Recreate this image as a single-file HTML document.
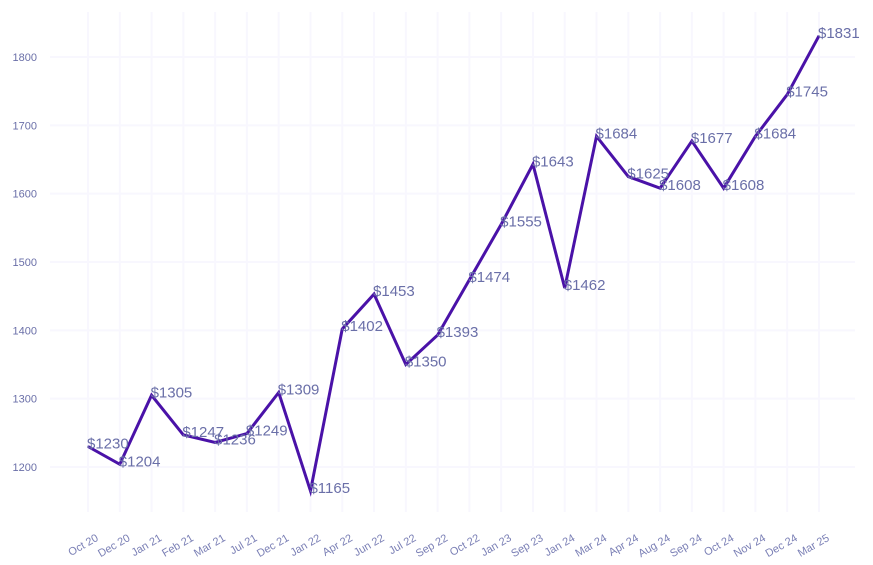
<!DOCTYPE html>
<html><head><meta charset="utf-8"><style>
body{margin:0;background:#fff;}
svg{display:block;font-family:"Liberation Sans",sans-serif;}
</style></head><body>
<svg id="chart" width="873" height="565"></svg>
<script>
const categories=["Oct 20","Dec 20","Jan 21","Feb 21","Mar 21","Jul 21","Dec 21","Jan 22","Apr 22","Jun 22","Jul 22","Sep 22","Oct 22","Jan 23","Sep 23","Jan 24","Mar 24","Apr 24","Aug 24","Sep 24","Oct 24","Nov 24","Dec 24","Mar 25"];
const values=[1230,1204,1305,1247,1236,1249,1309,1165,1402,1453,1350,1393,1474,1555,1643,1462,1684,1625,1608,1677,1608,1684,1745,1831];
const yTicks=[1200,1300,1400,1500,1600,1700,1800];
const NS="http://www.w3.org/2000/svg";
const svg=document.getElementById('chart');
const x0=88,x1=819,yA=1200,yB=1800,pyA=467,pyB=57;
const xs=i=>x0+(x1-x0)*i/(categories.length-1);
const ys=v=>pyA+(v-yA)*(pyB-pyA)/(yB-yA);
function mk(t,a,p){const e=document.createElementNS(NS,t);for(const k in a)e.setAttribute(k,a[k]);(p||svg).appendChild(e);return e;}
const grid=mk('g',{});


yTicks.forEach(v=>{
  const l=mk('line',{x1:50,x2:855,y1:ys(v),y2:ys(v),stroke:'#f8f7fe','stroke-width':2},grid);
  
  
  const t=mk('text',{x:37,y:ys(v)+4,'text-anchor':'end','font-size':11,fill:'#6a6fa8'});
  t.textContent=v;
  
  
});
categories.forEach((c,i)=>{
  const l=mk('line',{x1:xs(i),x2:xs(i),y1:12,y2:512,stroke:'#f8f7fe','stroke-width':2},grid);
  
  
  const tx=xs(i)+11,ty=540;
  const t=mk('text',{x:tx,y:ty,'text-anchor':'end','font-size':11,fill:'#7a7fb5',transform:`rotate(-30 ${tx} ${ty})`});
  t.textContent=c;
  
  
});
const pts=values.map((v,i)=>xs(i)+','+ys(v)).join(' ');
const line=mk('polyline',{points:pts,fill:'none',stroke:'#4a12a8','stroke-width':3,'stroke-linejoin':'miter'});


values.forEach((v,i)=>{
  const t=mk('text',{x:xs(i)-1,y:ys(v)+2,'font-size':15,fill:'#6a6fa8'});
  t.textContent='$'+v;
  
  
});
</script>
</body></html>
